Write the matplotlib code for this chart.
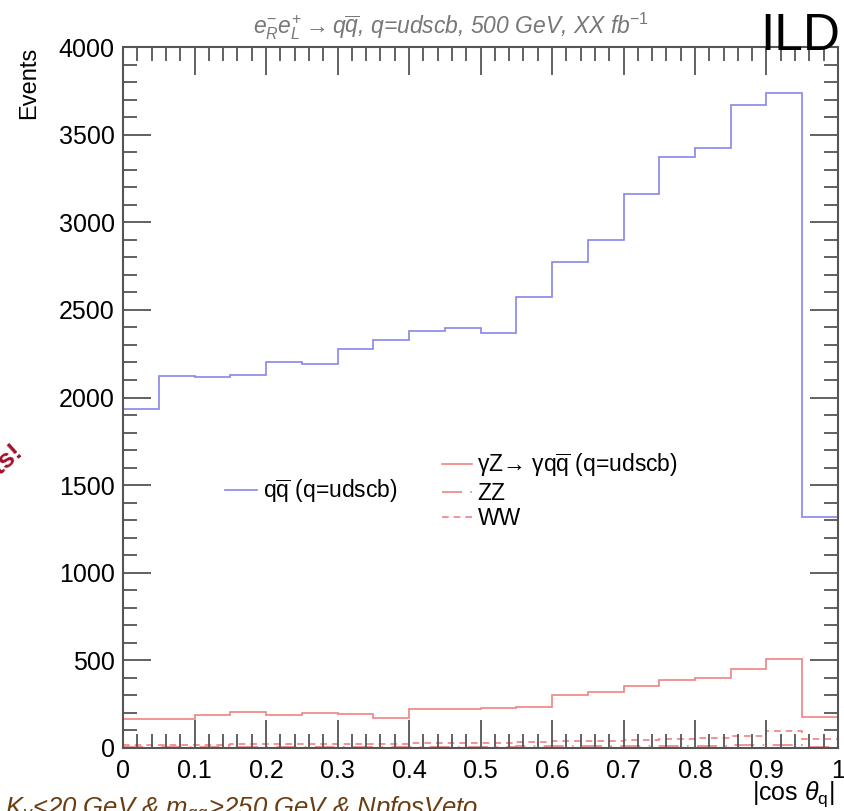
import matplotlib
matplotlib.use("Agg")
import matplotlib.pyplot as plt
import numpy as np

plt.rcParams['font.family'] = ['Liberation Sans', 'DejaVu Sans']
plt.rcParams['mathtext.fontset'] = 'custom'
plt.rcParams['mathtext.rm'] = 'Liberation Sans'
plt.rcParams['mathtext.it'] = 'Liberation Sans:italic'
plt.rcParams['mathtext.bf'] = 'Liberation Sans:bold'

# |cos theta_q| histogram, 20 bins from 0 to 1
bin_edges = np.linspace(0, 1, 21)

qq = [1932, 2124, 2118, 2129, 2203, 2189, 2274, 2328, 2382, 2394,
      2369, 2575, 2776, 2896, 3160, 3371, 3423, 3672, 3737, 1320]
gz_qq = [164, 168, 186, 207, 186, 200, 192, 173, 221, 221,
         226, 232, 302, 320, 356, 388, 401, 453, 510, 175]
zz = [5, 5, 5, 6, 6, 6, 7, 7, 7, 8,
      8, 9, 10, 11, 12, 13, 14, 15, 18, 8]
ww = [16, 17, 18, 20, 22, 22, 24, 25, 27, 28,
      30, 33, 38, 42, 46, 52, 58, 66, 95, 50]

blue = '#8585ee'
red = '#f08383'

fig = plt.figure(figsize=(8.45, 8.11), dpi=100)
ax = fig.add_axes([0.1456, 0.0777, 0.8461, 0.8643])

h_qq = ax.stairs(qq, bin_edges, baseline=None, color=blue, lw=1.2)
h_gz = ax.stairs(gz_qq, bin_edges, baseline=None, color=red, lw=1.2)
h_zz = ax.stairs(zz, bin_edges, baseline=None, color=red, lw=1.2,
                 linestyle=(0, (12, 5, 1, 5)))
h_ww = ax.stairs(ww, bin_edges, baseline=None, color=red, lw=1.2,
                 linestyle=(0, (4, 3)))

ax.set_xlim(0, 1)
ax.set_ylim(0, 4000)
ax.set_xticks(np.arange(0, 1.01, 0.1))
ax.set_xticklabels(['0', '0.1', '0.2', '0.3', '0.4', '0.5', '0.6', '0.7', '0.8', '0.9', '1'])
ax.set_xticks(np.arange(0, 1.001, 0.02), minor=True)
ax.set_yticks(np.arange(0, 4001, 500))
ax.set_yticks(np.arange(0, 4001, 100), minor=True)

ax.tick_params(which='both', direction='in', top=True, right=True,
               color='#555555', labelsize=18, width=1.3)
ax.tick_params(which='major', length=20, pad=6)
ax.tick_params(which='minor', length=10)
ax.tick_params(axis='x', pad=8)
for s in ax.spines.values():
    s.set_color('#555555')
    s.set_linewidth(1.5)

fig.text(0.035, 0.942, 'Events', rotation=90, ha='center', va='top', fontsize=17)
fig.text(0.988, 0.003, r'|cos $\theta_{\rm q}$|', ha='right', va='bottom', fontsize=18)

fig.text(0.534, 0.968, r'$e^{-}_{R}e^{+}_{L} \rightarrow q\overline{q}$, q=udscb, 500 GeV, XX fb$^{-1}$',
         ha='center', va='center', fontsize=16.5, color='#777777', style='italic')
fig.text(0.994, 0.938, 'ILD', ha='right', va='baseline', fontsize=37)

# selection text, cut by the lower edge as in the original
fig.text(0.006, -0.006, r'K$_{\gamma}$<20 GeV & m$_{\rm qq}$>250 GeV & NpfosVeto',
         ha='left', va='baseline', fontsize=18.5, color='#6b3d10', style='italic')
fig.text(0.028, 0.44, 'Preliminary results!', rotation=42, rotation_mode='anchor',
         ha='right', va='baseline', fontsize=19, color='#a0102a', weight='bold')

leg1 = ax.legend([h_qq], [r'$\mathrm{q}\overline{\mathrm{q}}$ (q=udscb)'], loc='center left',
                 bbox_to_anchor=(0.143, 0.367), frameon=False, fontsize=16.5,
                 handlelength=1.4, handletextpad=0.25, borderpad=0, borderaxespad=0)
ax.add_artist(leg1)
ax.legend([h_gz, h_zz, h_ww],
          [r'γZ→ γ$\mathrm{q}\overline{\mathrm{q}}$ (q=udscb)', 'ZZ', 'WW'],
          loc='center left', bbox_to_anchor=(0.446, 0.367), frameon=False,
          fontsize=16.5, handlelength=1.3, handletextpad=0.25, borderpad=0,
          borderaxespad=0, labelspacing=0.1)

fig.savefig('out.png', dpi=100)
